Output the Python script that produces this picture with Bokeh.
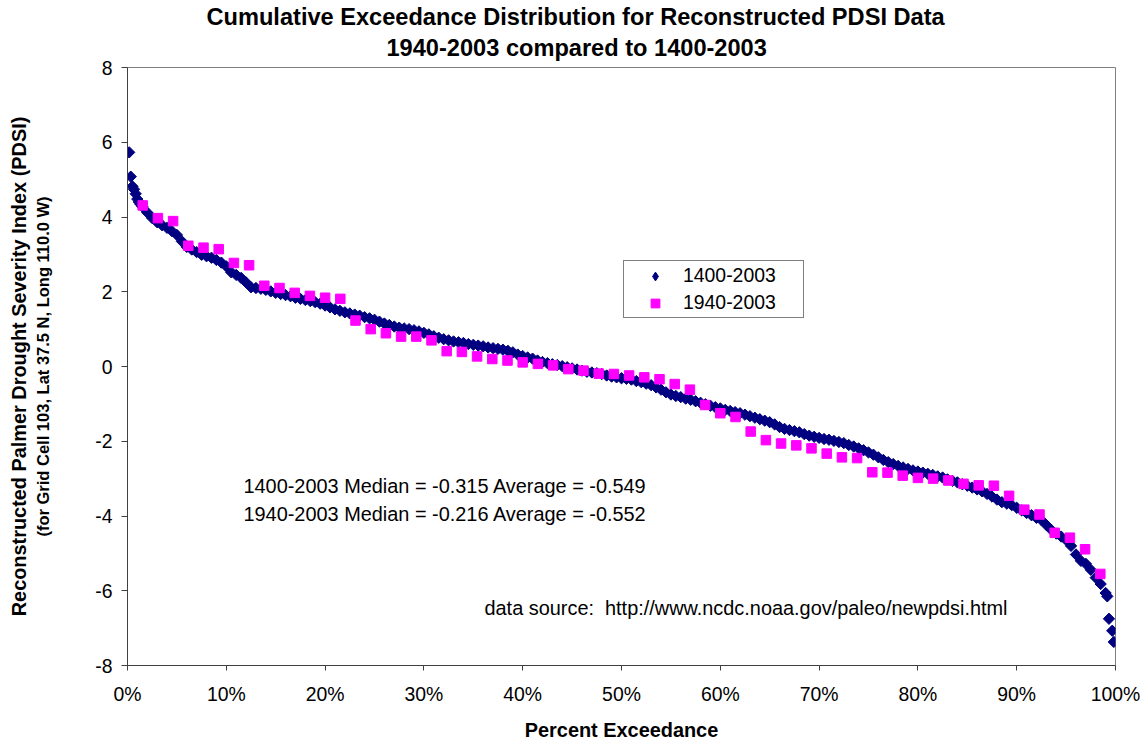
import math
from bokeh.plotting import figure
from bokeh.models import Range1d, FixedTicker, Label, Legend, LegendItem, LinearAxis, Title
from bokeh.embed import file_html
from bokeh.resources import INLINE

# ---------------- data ----------------
# 1400-2003 reconstructed PDSI, sorted, sampled along the exceedance curve
pct_1400 = [
    0.17, 0.33, 0.50, 0.66, 0.83, 0.99, 1.16, 1.32,
    1.5, 2.0, 2.5, 3.0, 3.5, 4.0, 4.5, 5.0, 5.5, 6.0,
    6.5, 7.0, 7.5, 8.0, 8.5, 9.0, 9.5, 10.0, 10.5, 11.0,
    11.5, 12.0, 12.5, 13.0, 13.5, 14.0, 14.5, 15.0, 15.5, 16.0,
    16.5, 17.0, 17.5, 18.0, 18.5, 19.0, 19.5, 20.0, 20.5, 21.0,
    21.5, 22.0, 22.5, 23.0, 23.5, 24.0, 24.5, 25.0, 25.5, 26.0,
    26.5, 27.0, 27.5, 28.0, 28.5, 29.0, 29.5, 30.0, 30.5, 31.0,
    31.5, 32.0, 32.5, 33.0, 33.5, 34.0, 34.5, 35.0, 35.5, 36.0,
    36.5, 37.0, 37.5, 38.0, 38.5, 39.0, 39.5, 40.0, 40.5, 41.0,
    41.5, 42.0, 42.5, 43.0, 43.5, 44.0, 44.5, 45.0, 45.5, 46.0,
    46.5, 47.0, 47.5, 48.0, 48.5, 49.0, 49.5, 50.0, 50.5, 51.0,
    51.5, 52.0, 52.5, 53.0, 53.5, 54.0, 54.5, 55.0, 55.5, 56.0,
    56.5, 57.0, 57.5, 58.0, 58.5, 59.0, 59.5, 60.0, 60.5, 61.0,
    61.5, 62.0, 62.5, 63.0, 63.5, 64.0, 64.5, 65.0, 65.5, 66.0,
    66.5, 67.0, 67.5, 68.0, 68.5, 69.0, 69.5, 70.0, 70.5, 71.0,
    71.5, 72.0, 72.5, 73.0, 73.5, 74.0, 74.5, 75.0, 75.5, 76.0,
    76.5, 77.0, 77.5, 78.0, 78.5, 79.0, 79.5, 80.0, 80.5, 81.0,
    81.5, 82.0, 82.5, 83.0, 83.5, 84.0, 84.5, 85.0, 85.5, 86.0,
    86.5, 87.0, 87.5, 88.0, 88.5, 89.0, 89.5, 90.0, 90.5, 91.0,
    91.5, 92.0, 92.5, 93.0, 93.5, 94.0, 94.5, 95.0, 95.5, 96.0,
    96.5, 97.0, 97.5, 98.0, 98.5, 99.0,
    99.17, 99.34, 99.67, 99.83,
]
pdsi_1400 = [
    5.73, 5.08, 4.82, 4.74, 4.62, 4.48, 4.40, 4.34,
    4.28, 4.12, 3.97, 3.86, 3.78, 3.71, 3.62, 3.52, 3.35, 3.20,
    3.13, 3.06, 2.99, 2.95, 2.91, 2.85, 2.78, 2.68, 2.52, 2.45,
    2.37, 2.25, 2.12, 2.10, 2.08, 2.05, 2.01, 1.97, 1.94, 1.91,
    1.88, 1.84, 1.81, 1.78, 1.75, 1.72, 1.68, 1.63, 1.58, 1.53,
    1.49, 1.45, 1.42, 1.39, 1.36, 1.32, 1.29, 1.25, 1.20, 1.15,
    1.11, 1.07, 1.04, 1.02, 1.00, 0.97, 0.94, 0.90, 0.86, 0.81,
    0.77, 0.73, 0.70, 0.67, 0.65, 0.63, 0.60, 0.58, 0.56, 0.54,
    0.51, 0.49, 0.47, 0.45, 0.42, 0.38, 0.32, 0.28, 0.24, 0.21,
    0.16, 0.12, 0.09, 0.06, 0.04, 0.01, -0.02, -0.05, -0.08, -0.11,
    -0.14, -0.16, -0.18, -0.20, -0.24, -0.27, -0.29, -0.315, -0.33, -0.35,
    -0.39, -0.42, -0.46, -0.50, -0.56, -0.62, -0.69, -0.75, -0.79, -0.82,
    -0.86, -0.89, -0.93, -0.97, -1.01, -1.05, -1.09, -1.12, -1.16, -1.19,
    -1.22, -1.25, -1.29, -1.33, -1.37, -1.41, -1.45, -1.49, -1.55, -1.62,
    -1.67, -1.70, -1.73, -1.76, -1.81, -1.85, -1.88, -1.91, -1.94, -1.96,
    -1.99, -2.02, -2.05, -2.10, -2.14, -2.19, -2.24, -2.30, -2.36, -2.43,
    -2.50, -2.56, -2.61, -2.66, -2.70, -2.74, -2.78, -2.81, -2.84, -2.87,
    -2.90, -2.94, -2.97, -3.02, -3.06, -3.10, -3.15, -3.19, -3.24, -3.29,
    -3.34, -3.41, -3.48, -3.56, -3.63, -3.67, -3.71, -3.78, -3.85, -3.92,
    -3.98, -4.05, -4.11, -4.24, -4.37, -4.47, -4.55, -4.64, -4.80, -5.03,
    -5.20, -5.28, -5.44, -5.65, -5.82, -6.06,
    -6.15, -6.75, -7.07, -7.37,
]

# 1940-2003 reconstructed PDSI, sorted (64 years)
pdsi_1940 = [
    4.31, 3.97, 3.89, 3.23, 3.18, 3.14, 2.77, 2.71, 2.16, 2.10,
    1.97, 1.89, 1.84, 1.81, 1.23, 1.00, 0.89, 0.80, 0.80, 0.70,
    0.41, 0.39, 0.27, 0.20, 0.16, 0.11, 0.07, 0.03, -0.07, -0.11,
    -0.19, -0.20, -0.24, -0.29, -0.34, -0.47, -0.62, -1.03, -1.25, -1.35,
    -1.74, -1.97, -2.06, -2.11, -2.19, -2.33, -2.43, -2.45, -2.83, -2.84,
    -2.92, -2.98, -3.00, -3.05, -3.14, -3.18, -3.19, -3.46, -3.83, -3.96,
    -4.45, -4.58, -4.89, -5.55,
]
# exceedance probability (rank / (n + 1)) in percent
pct_1940 = [100.0 * (i + 1) / (len(pdsi_1940) + 1) for i in range(len(pdsi_1940))]

series_names = ["1400-2003", "1940-2003"]
x_ticks = [0, 10, 20, 30, 40, 50, 60, 70, 80, 90, 100]
x_tick_labels = ["0%", "10%", "20%", "30%", "40%", "50%", "60%", "70%", "80%", "90%", "100%"]
y_ticks = [-8, -6, -4, -2, 0, 2, 4, 6, 8]
y_tick_labels = ["-8", "-6", "-4", "-2", "0", "2", "4", "6", "8"]

title_lines = ["Cumulative Exceedance Distribution for Reconstructed PDSI Data",
               "1940-2003 compared to 1400-2003"]
x_title = "Percent Exceedance"
y_title = "Reconstructed Palmer Drought Severity Index (PDSI)"
y_subtitle = "(for Grid Cell 103, Lat 37.5 N, Long 110.0 W)"
stats_lines = ["1400-2003 Median = -0.315 Average = -0.549",
               "1940-2003 Median = -0.216 Average = -0.552"]
source_text = "data source:\u00a0 http://www.ncdc.noaa.gov/paleo/newpdsi.html"

# ---------------- layout ----------------
W, H = 1144, 743
FL, FR, FT, FB = 127, 1115, 67, 670
XMIN, XMAX, YMIN, YMAX = 0, 100, -8, 8
FONT = "Liberation Sans"
FS = "19.4px"       # tick labels, legend
FS_TXT = "19.9px"   # annotation texts and axis titles
FS_TITLE = "23.6px"
NAVY = "#000080"
MAGENTA = "#FF00FF"

p = figure(width=W, height=H, output_backend="svg", toolbar_location=None, title=None,
           x_range=Range1d(XMIN, XMAX), y_range=Range1d(YMIN, YMAX),
           min_border_left=FL, min_border_right=W - FR,
           min_border_top=FT, min_border_bottom=H - FB)
p.xgrid.visible = False
p.ygrid.visible = False
p.outline_line_color = "#808080"
p.outline_line_width = 1
p.background_fill_color = "white"
p.border_fill_color = "white"

for ax in (p.xaxis[0], p.yaxis[0]):
    ax.axis_line_color = "#404040"
    ax.axis_line_width = 1
    ax.major_tick_line_color = "#404040"
    ax.minor_tick_line_color = None
    ax.major_tick_in = 0
    ax.major_label_text_font = FONT
    ax.major_label_text_font_size = FS
    ax.major_label_text_color = "black"
    ax.axis_label_text_font = FONT
    ax.axis_label_text_font_style = "bold"
    ax.axis_label_text_color = "black"

p.xaxis.ticker = FixedTicker(ticks=x_ticks)
p.xaxis.major_label_overrides = dict(zip(x_ticks, x_tick_labels))
p.xaxis.major_tick_out = 5
p.xaxis.major_label_standoff = 12
p.xaxis.axis_label = x_title
p.xaxis.axis_label_text_font_size = FS_TXT
p.xaxis.axis_label_standoff = 11

p.yaxis.ticker = FixedTicker(ticks=y_ticks)
p.yaxis.major_label_overrides = dict(zip(y_ticks, y_tick_labels))
p.yaxis.major_tick_out = 6
p.yaxis.major_label_standoff = 9
p.yaxis.axis_label = y_subtitle
p.yaxis.axis_label_text_font_size = "16.5px"
p.yaxis.axis_label_standoff = 40

# outer left axis only carries the main y title
y_outer = LinearAxis(ticker=FixedTicker(ticks=[]), axis_label=y_title,
                     axis_label_text_font=FONT, axis_label_text_font_size=FS_TXT,
                     axis_label_text_font_style="bold", axis_label_text_color="black",
                     axis_line_color=None, major_tick_line_color=None,
                     minor_tick_line_color=None, major_tick_out=0, major_tick_in=0,
                     major_label_standoff=0, axis_label_standoff=2)
p.add_layout(y_outer, "left")

# two-line title (first added is closest to the plot)
p.add_layout(Title(text=title_lines[1], align="left", offset=259, standoff=10,
                   vertical_align="top", text_font=FONT, text_font_size=FS_TITLE,
                   text_font_style="bold", text_color="black"), "above")
p.add_layout(Title(text=title_lines[0], align="left", offset=79, standoff=0,
                   vertical_align="bottom", text_font=FONT, text_font_size=FS_TITLE,
                   text_font_style="bold", text_color="black"), "above")

r1 = p.scatter(pct_1400, pdsi_1400, marker="square", angle=math.pi / 4, size=8,
               fill_color=NAVY, line_color=NAVY)
r2 = p.scatter(pct_1940, pdsi_1940, marker="square", size=9.5,
               fill_color=MAGENTA, line_color=MAGENTA)
# legend key shown as a diamond: proxy renderer whose only point is NaN (draws nothing)
r1_key = p.scatter(x=[float("nan")], y=[float("nan")], marker="diamond", size=10,
                   fill_color=NAVY, line_color=NAVY)

legend = Legend(items=[LegendItem(label=series_names[0], renderers=[r1_key]),
                       LegendItem(label=series_names[1], renderers=[r2])],
                location=(623 - FL, FB - 317 - 6), padding=3, spacing=4, margin=0,
                glyph_width=56, glyph_height=22, label_standoff=0,
                label_width=117, label_height=22,
                label_text_font=FONT, label_text_font_size=FS, label_text_color="black",
                border_line_color="black", border_line_width=1,
                background_fill_color="white", background_fill_alpha=1)
p.add_layout(legend)


def dx(px):
    return XMIN + (px - FL) / (FR - FL) * (XMAX - XMIN)


def dy(py):
    return YMAX - (py - FT) / (FB - FT) * (YMAX - YMIN)


def add_text(px, py, text):
    p.add_layout(Label(x=dx(px), y=dy(py), text=text, text_font=FONT,
                       text_font_size=FS_TXT, text_align="left", text_baseline="middle",
                       text_color="black"))


add_text(243, 489, stats_lines[0])
add_text(243, 517, stats_lines[1])
add_text(484, 612, source_text)

open("out.html", "w").write(file_html(p, INLINE))
